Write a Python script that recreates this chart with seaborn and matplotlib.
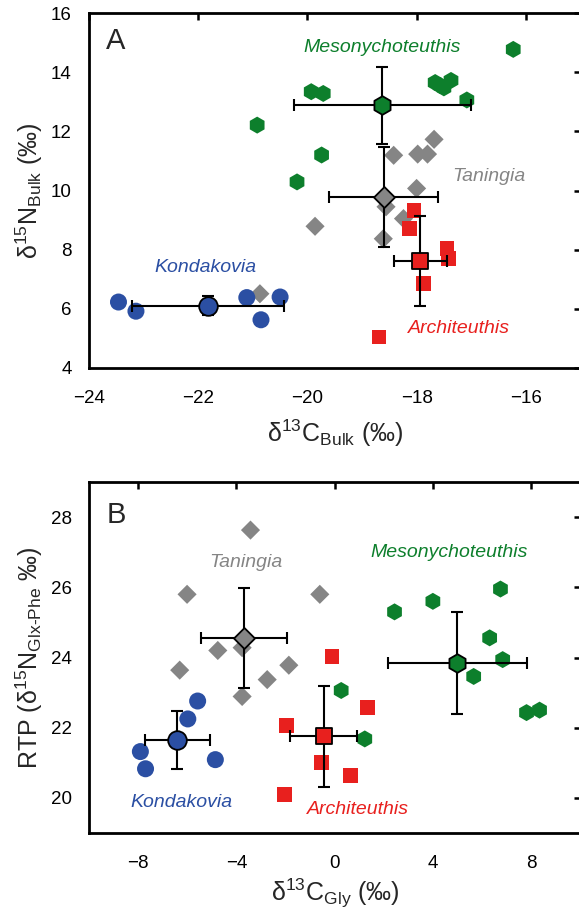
import numpy as np
import pandas as pd
import matplotlib
matplotlib.use("Agg")
import matplotlib.pyplot as plt
import seaborn as sns

sns.set_theme(style="white")
plt.rcParams['font.family'] = ['Liberation Sans', 'DejaVu Sans']
plt.rcParams['mathtext.fontset'] = 'custom'
plt.rcParams['mathtext.rm'] = 'Liberation Sans'
plt.rcParams['mathtext.it'] = 'Liberation Sans:italic'
plt.rcParams['mathtext.bf'] = 'Liberation Sans:bold'

species = ["Mesonychoteuthis", "Taningia", "Architeuthis", "Kondakovia"]
colors = {"Mesonychoteuthis": "#0d7f2c", "Taningia": "#858585",
          "Architeuthis": "#e8201e", "Kondakovia": "#2b4fa3"}
markers = {"Mesonychoteuthis": "h", "Taningia": "D", "Architeuthis": "s", "Kondakovia": "o"}

# ---- Panel A: bulk isotopes ----
meso_c_bulk = [-16.23, -19.93, -19.71, -17.66, -17.57, -17.50, -17.37, -17.08, -20.92, -19.74, -20.19]
meso_n_bulk = [14.77, 13.34, 13.28, 13.65, 13.55, 13.47, 13.72, 13.06, 12.21, 11.20, 10.29]
tan_c_bulk = [-18.42, -17.98, -17.80, -17.68, -18.00, -18.56, -18.24, -19.86, -18.61, -20.87]
tan_n_bulk = [11.19, 11.23, 11.23, 11.73, 10.07, 9.45, 9.05, 8.79, 8.37, 6.51]
arch_c_bulk = [-18.05, -18.13, -17.44, -17.42, -17.87, -18.69]
arch_n_bulk = [9.33, 8.71, 8.04, 7.70, 6.85, 5.05]
kond_c_bulk = [-23.46, -23.14, -21.11, -20.85, -20.50]
kond_n_bulk = [6.23, 5.92, 6.38, 5.63, 6.40]

mean_c_bulk = [-18.63, -18.60, -17.93, -21.82]
mean_n_bulk = [12.88, 9.78, 7.62, 6.10]
sd_c_bulk = [1.62, 1.00, 0.48, 1.39]
sd_n_bulk = [1.31, 1.68, 1.52, 0.32]

# ---- Panel B: amino-acid isotopes ----
meso_c_gly = [2.43, 3.99, 6.74, 6.30, 6.83, 5.65, 0.26, 7.80, 8.33, 1.22]
meso_rtp = [25.30, 25.60, 25.95, 24.56, 23.94, 23.46, 23.06, 22.43, 22.50, 21.68]
tan_c_gly = [-3.43, -6.01, -0.61, -4.76, -3.77, -1.87, -6.31, -2.75, -3.77]
tan_rtp = [27.63, 25.80, 25.80, 24.20, 24.28, 23.78, 23.64, 23.37, 22.89]
arch_c_gly = [-0.11, 1.32, -1.97, -0.53, 0.64, -2.04]
arch_rtp = [24.03, 22.57, 22.06, 21.01, 20.64, 20.10]
kond_c_gly = [-5.58, -5.98, -7.91, -7.70, -4.86]
kond_rtp = [22.76, 22.25, 21.32, 20.83, 21.09]

mean_c_gly = [4.98, -3.70, -0.45, -6.41]
mean_rtp = [23.84, 24.56, 21.75, 21.65]
sd_c_gly = [2.82, 1.75, 1.37, 1.33]
sd_rtp = [1.46, 1.43, 1.45, 0.82]

def frame(xs, ys):
    rows = []
    for sp, x, y in zip(species, xs, ys):
        for a, b in zip(x, y):
            rows.append((sp, a, b))
    return pd.DataFrame(rows, columns=["species", "x", "y"])

dfA = frame([meso_c_bulk, tan_c_bulk, arch_c_bulk, kond_c_bulk],
            [meso_n_bulk, tan_n_bulk, arch_n_bulk, kond_n_bulk])
dfB = frame([meso_c_gly, tan_c_gly, arch_c_gly, kond_c_gly],
            [meso_rtp, tan_rtp, arch_rtp, kond_rtp])

W, H = 579, 911
fig = plt.figure(figsize=(W / 100, H / 100), dpi=100)
axA = fig.add_axes([89 / W, (H - 368) / H, 492 / W, 355 / H])
axB = fig.add_axes([89 / W, (H - 833) / H, 492 / W, 351 / H])

sizes = {"Mesonychoteuthis": 150, "Taningia": 95, "Architeuthis": 110, "Kondakovia": 150}

def draw(ax, df, mx, my, sx, sy):
    for sp in species:
        sub = df[df.species == sp]
        sns.scatterplot(data=sub, x="x", y="y", ax=ax, color=colors[sp],
                        marker=markers[sp], s=sizes[sp], edgecolor="none",
                        linewidth=0, legend=False, zorder=2)
    for i, sp in enumerate(species):
        ax.errorbar(mx[i], my[i], xerr=sx[i], yerr=sy[i], fmt="none",
                    ecolor="black", elinewidth=1.5, capsize=4, capthick=1.5, zorder=3)
        ax.scatter(mx[i], my[i], marker=markers[sp], s=sizes[sp] * 1.2,
                   color=colors[sp], edgecolor="black", linewidth=1.3, zorder=4)
    ax.set_xlabel("")
    ax.set_ylabel("")
    for s in ax.spines.values():
        s.set_linewidth(2)
        s.set_color("black")
    ax.tick_params(direction="in", length=5, width=1.8, top=True, right=True,
                   labelsize=13.5, colors="black")
    ax.tick_params(axis="x", pad=15.5)
    ax.tick_params(axis="y", pad=12.5)

lab = dict(style="italic", fontsize=14, ha="center", va="center")

draw(axA, dfA, mean_c_bulk, mean_n_bulk, sd_c_bulk, sd_n_bulk)
axA.set_xlim(-24, -24 + 492 / 54.6)
axA.set_ylim(4, 16)
axA.set_xticks([-24, -22, -20, -18, -16])
axA.set_yticks([4, 6, 8, 10, 12, 14, 16])
axA.set_xlabel("δ$^{13}$C$_{\\mathrm{Bulk}}$ (‰)", fontsize=18, labelpad=8)
axA.set_ylabel("δ$^{15}$N$_{\\mathrm{Bulk}}$ (‰)", fontsize=18, labelpad=4)
axA.text(0.035, 0.92, "A", transform=axA.transAxes, fontsize=21, va="center")
axA.text(-18.63, 14.85, "Mesonychoteuthis", color=colors["Mesonychoteuthis"], **lab)
axA.text(-16.67, 10.48, "Taningia", color=colors["Taningia"], **lab)
axA.text(-21.86, 7.4, "Kondakovia", color=colors["Kondakovia"], **lab)
axA.text(-17.22, 5.34, "Architeuthis", color=colors["Architeuthis"], **lab)

draw(axB, dfB, mean_c_gly, mean_rtp, sd_c_gly, sd_rtp)
axB.set_xlim(-10, -10 + 492 / 24.58)
axB.set_ylim(19, 29)
axB.set_xticks([-8, -4, 0, 4, 8])
axB.set_yticks([20, 22, 24, 26, 28])
axB.set_xlabel("δ$^{13}$C$_{\\mathrm{Gly}}$ (‰)", fontsize=18, labelpad=4)
axB.set_ylabel("RTP (δ$^{15}$N$_{\\mathrm{Glx\\text{-}Phe}}$ ‰)", fontsize=18, labelpad=4)
axB.text(0.035, 0.905, "B", transform=axB.transAxes, fontsize=21, va="center")
axB.text(-3.63, 26.72, "Taningia", color=colors["Taningia"], **lab)
axB.text(4.67, 26.98, "Mesonychoteuthis", color=colors["Mesonychoteuthis"], **lab)
axB.text(-6.24, 19.88, "Kondakovia", color=colors["Kondakovia"], **lab)
axB.text(0.96, 19.68, "Architeuthis", color=colors["Architeuthis"], **lab)

fig.savefig("out.png", dpi=100)
